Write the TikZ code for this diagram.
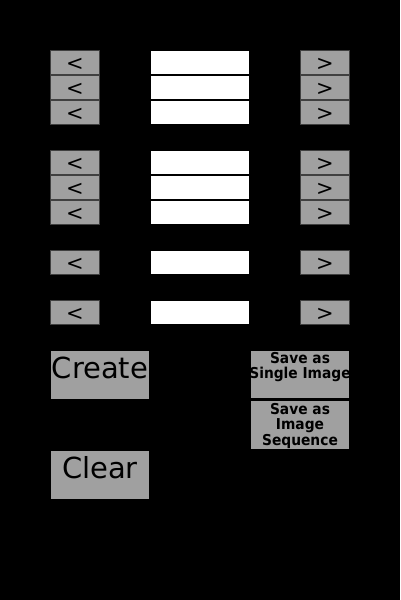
\documentclass[tikz,border=0pt]{standalone}
\usepackage{fontspec}
\setmainfont{DejaVu Sans}
\newfontfamily\savefont[FakeStretch=0.92]{DejaVu Sans}
\usetikzlibrary{positioning}
\definecolor{btngray}{RGB}{160,160,160}
\definecolor{btnedge}{RGB}{64,64,64}

\begin{document}
\begin{tikzpicture}
	[x=1pt,y=-1pt,every node/.style={inner sep=0pt,outer sep=0pt},
	arrowbtn/.style={rectangle,fill=btngray,draw=btnedge,line width=1pt,minimum 
		width=49pt,minimum height=24pt,text height=16pt,text depth=0pt,
		font=\fontsize{21}{21}\selectfont},
	field/.style={rectangle,fill=white,draw=black,line width=1pt,minimum 
		width=99pt,minimum height=24pt},
	bigbtn/.style={rectangle,fill=btngray,minimum width=98pt,minimum height=48pt,
		text height=21pt,text depth=15pt,font=\fontsize{29}{29}\selectfont},
	savebtn/.style={rectangle,fill=btngray,minimum width=98pt},
	savetxt/.style={align=center,font=\savefont\bfseries\fontsize{15}{15.3}\selectfont}]

	\fill[black] (0,0) rectangle (400,600);
	\foreach \row/\y in {1/62.5,2/87.5,3/112.5,4/162.5,5/187.5,6/212.5,7/262.5,8/312.5}{
		\node[arrowbtn] (prev\row) at (75,\y) {<};
		\node[field] (val\row) at (200,\y) {};
		\node[arrowbtn] (next\row) at (325,\y) {>};
	}
	
	\node[bigbtn] (create) at (100,375) {Create};
	\node[bigbtn] (clear) at (100,475) {Clear};
	\node[savebtn,minimum height=47pt] (single) at (300,374.5) {};
	\node[savebtn,minimum height=48pt] (sequence) at (300,425) {};
	\node[savetxt,anchor=north,yshift=-1.3pt] (singletxt) at (single.north)
		{Save as\\Single Image};
	\node[savetxt,anchor=north,yshift=-2.3pt] (sequencetxt) at (sequence.north)
		{Save as\\Image\\Sequence};
	\end{tikzpicture}
\end{document}
